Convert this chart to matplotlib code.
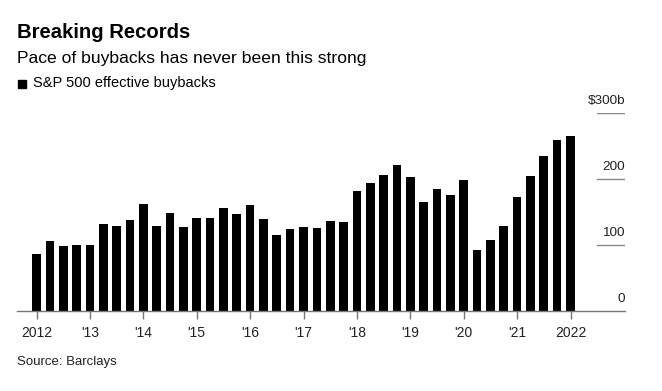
import matplotlib.pyplot as plt
import matplotlib.transforms as mtransforms
import numpy as np

plt.rcParams['font.family'] = ['Liberation Sans', 'DejaVu Sans']

# quarterly S&P 500 effective buybacks, $b, 2012 Q1 .. 2022 Q1
buybacks = [86, 105.5, 98, 99.5,
            99.5, 132.5, 129.5, 138.5,
            162, 129.5, 148.5, 128,
            141.5, 141.5, 156.5, 147.5,
            160.5, 140, 114.5, 125,
            128, 126.5, 137, 135.5,
            182, 194, 206, 221,
            203, 165.5, 185, 176,
            198.5, 92, 107, 129.5,
            173, 204.5, 234.5, 258.5,
            264.5]
year_labels = ["2012", "'13", "'14", "'15", "'16", "'17", "'18", "'19", "'20", "'21", "2022"]
y_ticks = [0, 100, 200, 300]
y_labels = ["0", "100", "200", "$300b"]

W, H = 662, 391
fig = plt.figure(figsize=(W / 100, H / 100), dpi=100)

# axes from x=17..625 px, y baseline at 311 px, 300 at 113 px
left, right = 17, 625
bottom, top = H - 311, H - 113
ax = fig.add_axes([left / W, bottom / H, (right - left) / W, (top - bottom) / H])

x = np.arange(len(buybacks))
ax.bar(x, buybacks, width=0.65, color='black', zorder=2)

step = 13.35
ax.set_xlim(-(36.5 - left) / step, -(36.5 - left) / step + (right - left) / step)
ax.set_ylim(0, 300)

for s in ['top', 'right', 'left']:
    ax.spines[s].set_visible(False)
ax.spines['bottom'].set_color('#777777')
ax.spines['bottom'].set_linewidth(1)

ax.set_xticks(np.arange(0, len(buybacks), 4))
ax.set_xticklabels(year_labels, fontsize=10, color='#222222')
ax.tick_params(axis='x', length=6, width=1, color='#777777', pad=5)
ax.set_yticks([])

xmin = (597 - left) / (right - left)
offset = mtransforms.offset_copy(ax.get_yaxis_transform(), fig=fig, x=0, y=4, units='points')
for v, lab in zip(y_ticks, y_labels):
    if v > 0:
        ax.axhline(v, xmin=xmin, xmax=1, color='#888888', lw=1, zorder=1)
    ax.text(1.0, v, lab, transform=offset, ha='right', va='bottom', fontsize=9.7, color='#222222')

fig.text(17 / W, 1 - 37.5 / H, "Breaking Records", fontsize=14.6, fontweight='bold', color='black', va='baseline')
fig.text(17 / W, 1 - 63.5 / H, "Pace of buybacks has never been this strong", fontsize=12.6, color='black', va='baseline')
fig.patches.append(plt.Rectangle((17.5 / W, 1 - 87.5 / H), 8 / W, 8 / H, transform=fig.transFigure, color='black'))
fig.text(33 / W, 1 - 87.5 / H, "S&P 500 effective buybacks", fontsize=10.5, color='black', va='baseline')
fig.text(17 / W, 1 - 365 / H, "Source: Barclays", fontsize=9.5, color='#222222', va='baseline')

fig.savefig('out.png', dpi=100)
